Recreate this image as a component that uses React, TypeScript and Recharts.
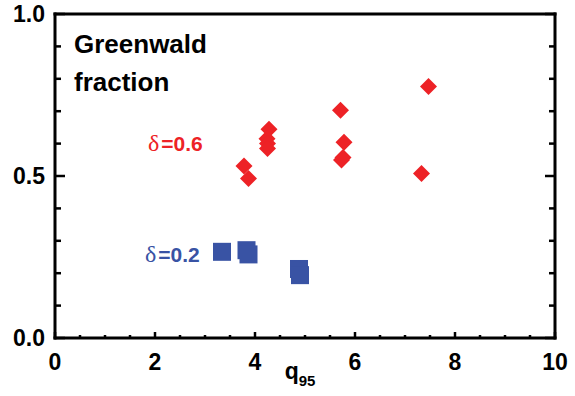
import React from 'react';
import { ScatterChart, Scatter, XAxis, YAxis, Customized } from 'recharts';

// δ = 0.6 series (red diamonds)
const delta06Q95 = [7.47, 5.71, 4.28, 4.24, 4.25, 4.25, 5.78, 5.76, 5.73, 3.78, 3.87, 7.33];
const delta06Fg = [0.776, 0.703, 0.644, 0.615, 0.6, 0.585, 0.604, 0.557, 0.549, 0.531, 0.492, 0.508];
// δ = 0.2 series (blue squares)
const delta02Q95 = [3.34, 3.83, 3.87, 4.88, 4.9];
const delta02Fg = [0.266, 0.271, 0.258, 0.213, 0.194];

// ticks
const xMajorTicks = [0, 2, 4, 6, 8, 10];
const xTickLabels = ['0', '2', '4', '6', '8', '10'];
const xMinorTicks = [0.5, 1, 1.5, 2.5, 3, 3.5, 4.5, 5, 5.5, 6.5, 7, 7.5, 8.5, 9, 9.5];
const yMajorTicks = [0, 0.5, 1];
const yTickLabels = ['0.0', '0.5', '1.0'];
const yMinorTicks = [0.1, 0.2, 0.3, 0.4, 0.6, 0.7, 0.8, 0.9];

const RED = '#ED2226';
const BLUE = '#3953A4';
const SANS = '"Liberation Sans", Arial, Helvetica, sans-serif';
const SERIF = '"Liberation Serif", "Times New Roman", serif';

const highData = delta06Q95.map((q, i) => ({ q95: q, fg: delta06Fg[i] }));
const lowData = delta02Q95.map((q, i) => ({ q95: q, fg: delta02Fg[i] }));

const xTicks = [...xMajorTicks, ...xMinorTicks].sort((a, b) => a - b);
const yTicks = [...yMajorTicks, ...yMinorTicks].sort((a, b) => a - b);

const TW = 2.5;

const BottomTick = (props: any) => {
  const { x, y, payload } = props;
  const mi = xMajorTicks.indexOf(payload.value);
  const major = mi >= 0;
  return (
    <g>
      <line x1={x} x2={x} y1={y} y2={y - (major ? 6 : 3)} stroke="#000" strokeWidth={TW} />
      {major && (
        <text x={x} y={y + 32} textAnchor="middle" fontFamily={SANS} fontWeight="bold" fontSize={23} fill="#000">
          {xTickLabels[mi]}
        </text>
      )}
    </g>
  );
};

const TopTick = (props: any) => {
  const { x, y, payload } = props;
  const major = xMajorTicks.indexOf(payload.value) >= 0;
  return <line x1={x} x2={x} y1={y} y2={y + (major ? 6 : 3)} stroke="#000" strokeWidth={TW} />;
};

const LeftTick = (props: any) => {
  const { x, y, payload } = props;
  const mi = yMajorTicks.indexOf(payload.value);
  const major = mi >= 0;
  return (
    <g>
      <line x1={x} x2={x + (major ? 10 : 6)} y1={y} y2={y} stroke="#000" strokeWidth={TW} />
      {major && (
        <text x={x - 10} y={y + 8} textAnchor="end" fontFamily={SANS} fontWeight="bold" fontSize={23} fill="#000">
          {yTickLabels[mi]}
        </text>
      )}
    </g>
  );
};

const RightTick = (props: any) => {
  const { x, y, payload } = props;
  const major = yMajorTicks.indexOf(payload.value) >= 0;
  return <line x1={x} x2={x - (major ? 10 : 6)} y1={y} y2={y} stroke="#000" strokeWidth={TW} />;
};

const Diamond = (props: any) => {
  const { cx, cy } = props;
  const r = 8.5;
  return (
    <polygon
      points={`${cx},${cy - r} ${cx + r},${cy} ${cx},${cy + r} ${cx - r},${cy}`}
      fill={RED}
    />
  );
};

const Square = (props: any) => {
  const { cx, cy } = props;
  const s = 18;
  return <rect x={cx - s / 2} y={cy - s / 2} width={s} height={s} fill={BLUE} />;
};

const XLabel = (props: any) => {
  const vb = props.viewBox || { x: 55, y: 338, width: 500, height: 58 };
  const cx = vb.x + vb.width / 2;
  return (
    <text x={cx - 5} y={vb.y + 41} textAnchor="middle" fontFamily={SANS} fontWeight="bold" fill="#000">
      <tspan fontSize={23}>q</tspan>
      <tspan fontSize={15} dy={7}>95</tspan>
    </text>
  );
};

const Annotations = () => (
  <g>
    <text x={74} y={53} fontFamily={SANS} fontWeight="bold" fontSize={26} fill="#000">Greenwald</text>
    <text x={74} y={91} fontFamily={SANS} fontWeight="bold" fontSize={26} fill="#000">fraction</text>
    <text x={148} y={151} fill={RED}>
      <tspan fontFamily={SERIF} fontSize={24}>δ</tspan>
      <tspan fontFamily={SANS} fontWeight="bold" fontSize={21} dx={2}>=0.6</tspan>
    </text>
    <text x={145} y={262} fill={BLUE}>
      <tspan fontFamily={SERIF} fontSize={24}>δ</tspan>
      <tspan fontFamily={SANS} fontWeight="bold" fontSize={21} dx={2}>=0.2</tspan>
    </text>
  </g>
);

const axisLine = { stroke: '#000', strokeWidth: 3, strokeLinecap: 'square' as const };

export default function App() {
  return (
    <div style={{ position: 'absolute', left: 0, top: 0, background: '#fff' }}>
      <ScatterChart width={575} height={396} margin={{ top: 13, right: 19, bottom: 0, left: 0 }}>
        <XAxis
          dataKey="q95"
          type="number"
          domain={[0, 10]}
          allowDataOverflow
          ticks={xTicks}
          interval={0}
          height={58}
          axisLine={axisLine}
          tickLine={false}
          tickSize={0}
          tickMargin={0}
          tick={<BottomTick />}
          label={{ content: <XLabel /> } as any}
        />
        <XAxis
          xAxisId="top"
          orientation="top"
          type="number"
          domain={[0, 10]}
          allowDataOverflow
          ticks={xTicks}
          interval={0}
          height={1}
          axisLine={axisLine}
          tickLine={false}
          tickSize={0}
          tickMargin={0}
          tick={<TopTick />}
        />
        <YAxis
          dataKey="fg"
          type="number"
          domain={[0, 1]}
          allowDataOverflow
          ticks={yTicks}
          interval={0}
          width={55}
          axisLine={axisLine}
          tickLine={false}
          tickSize={0}
          tickMargin={0}
          tick={<LeftTick />}
        />
        <YAxis
          yAxisId="right"
          orientation="right"
          type="number"
          domain={[0, 1]}
          allowDataOverflow
          ticks={yTicks}
          interval={0}
          width={1}
          axisLine={axisLine}
          tickLine={false}
          tickSize={0}
          tickMargin={0}
          tick={<RightTick />}
        />
        <Scatter data={highData} shape={<Diamond />} isAnimationActive={false} />
        <Scatter data={lowData} shape={<Square />} isAnimationActive={false} />
        <Customized component={<Annotations />} />
      </ScatterChart>
    </div>
  );
}
